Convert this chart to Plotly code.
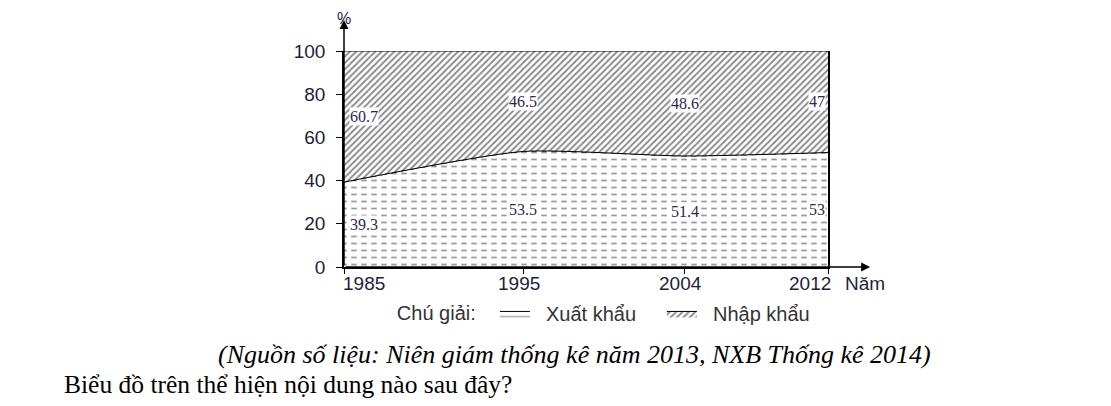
import plotly.graph_objects as go

years = [1985, 1995, 2004, 2012]
xuat_khau = [39.3, 53.5, 51.4, 53]
nhap_khau = [60.7, 46.5, 48.6, 47]
y_ticks = [0, 20, 40, 60, 80, 100]

tong = [a + b for a, b in zip(xuat_khau, nhap_khau)]
anchors = ['left'] + ['center'] * (len(years) - 2) + ['right']
pad = '\u00a0\u00a0'

fig = go.Figure()

# xuat khau: horizontal lines, broken into dashes by a white vertical pattern on top
fig.add_trace(go.Scatter(
    x=years, y=xuat_khau, name=pad + 'Xuất khẩu', mode='lines',
    line=dict(color='black', width=1, shape='spline', smoothing=0.6),
    fill='tozeroy', fillcolor='white',
    fillpattern=dict(shape='-', fgcolor='#333333', bgcolor='white', size=7, solidity=0.25)
))
fig.add_trace(go.Scatter(
    x=years, y=xuat_khau, mode='lines', showlegend=False, hoverinfo='skip',
    line=dict(color='black', width=1, shape='spline', smoothing=0.6),
    fill='tozeroy', fillcolor='white',
    fillpattern=dict(shape='|', fgcolor='white', bgcolor='rgba(0,0,0,0)', fgopacity=1,
                     size=10, solidity=0.45)
))
fig.add_trace(go.Scatter(
    x=years, y=tong, name=pad + 'Nhập khẩu', mode='lines',
    line=dict(color='black', width=1),
    fill='tonexty', fillcolor='white',
    fillpattern=dict(shape='/', fgcolor='#111111', bgcolor='white', size=4.5, solidity=0.4)
))

# value labels
lbl_font = dict(family='Liberation Serif', size=16, color='#2a2a50')
for x, a, b, anc in zip(years, xuat_khau, nhap_khau, anchors):
    shift = {'left': 5, 'right': -2}.get(anc, 0)
    fig.add_annotation(x=x, y=a / 2, text=str(a), showarrow=False, xanchor=anc,
                       xshift=shift, bgcolor='white', borderpad=0, font=lbl_font)
    fig.add_annotation(x=x, y=a + b / 2, text=str(b), showarrow=False, xanchor=anc,
                       xshift=shift, bgcolor='white', borderpad=0, font=lbl_font)

# x tick labels
tick_font = dict(family='Liberation Sans', size=19, color='#1e1e3c')
for x, anc in zip(years, anchors):
    fig.add_annotation(x=x, y=0, yref='y', text=str(x), showarrow=False,
                       xanchor=anc, yanchor='top', yshift=-4,
                       xshift={'left': -3, 'right': 5}.get(anc, -4), font=tick_font)

# axis arrows and axis names
fig.add_annotation(x=1.087, y=0, xref='paper', yref='paper', ax=-526, ay=0,
                   showarrow=True, arrowhead=2, arrowsize=1.2, arrowwidth=1.5, arrowcolor='black', text='')
fig.add_annotation(x=0, y=1.143, xref='paper', yref='paper', ax=0, ay=247,
                   showarrow=True, arrowhead=2, arrowsize=1.2, arrowwidth=1.5, arrowcolor='black', text='')
fig.add_annotation(x=1.031, y=0, xref='paper', yref='paper', text='Năm', showarrow=False,
                   xanchor='left', yanchor='top', yshift=-4, font=tick_font)
fig.add_annotation(x=0, y=1.198, xref='paper', yref='paper', text='%', showarrow=False,
                   xanchor='center', yanchor='top', font=dict(family='Liberation Sans', size=16, color='#1e1e3c'))

# source and question
fig.add_annotation(x=0.477, y=-0.407, xref='paper', yref='paper', showarrow=False,
                   text='<i>(Nguồn số liệu: Niên giám thống kê năm 2013, NXB Thống kê 2014)</i>',
                   xanchor='center', yanchor='middle',
                   font=dict(family='Liberation Serif', size=26, color='black'))
fig.add_annotation(x=-0.583, y=-0.542, xref='paper', yref='paper', showarrow=False,
                   text='Biểu đồ trên thể hiện nội dung nào sau đây?',
                   xanchor='left', yanchor='middle',
                   font=dict(family='Liberation Serif', size=25.5, color='black'))

fig.update_layout(
    width=1111, height=406,
    margin=dict(l=336, r=291, t=43, b=147),
    paper_bgcolor='white', plot_bgcolor='white',
    showlegend=True,
    legend=dict(orientation='h', x=0.105, y=-0.215, xanchor='left', yanchor='middle',
                traceorder='normal', entrywidth=122,
                title=dict(text='Chú giải:' + pad,
                           font=dict(family='Liberation Sans', size=20, color='#333333')),
                font=dict(family='Liberation Sans', size=20, color='#333333'),
                itemwidth=30, bgcolor='rgba(0,0,0,0)'),
    xaxis=dict(range=[years[0], years[-1]], tickvals=years, showticklabels=False,
               ticks='outside', ticklen=5, tickcolor='black',
               showline=True, linecolor='black', linewidth=1.5,
               showgrid=False, zeroline=False, fixedrange=True),
    yaxis=dict(range=[0, 100], tickvals=y_ticks, ticks='outside', ticklen=6, tickcolor='black',
               tickfont=tick_font, ticklabelstandoff=7,
               showline=True, linecolor='black', linewidth=1.5, mirror=True,
               showgrid=False, zeroline=False, fixedrange=True),
)

fig.write_html('out.html')
